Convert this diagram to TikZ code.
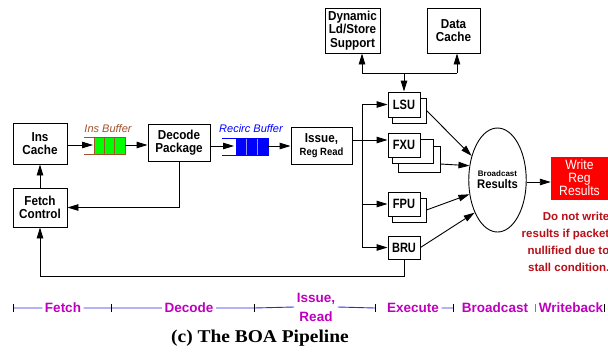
\documentclass[tikz,border=0pt]{standalone}
\usepackage{fontspec}
\setmainfont{Liberation Sans}
\newfontfamily\narrowsans[FakeStretch=0.9]{Liberation Sans}
\newfontfamily\unitsans[FakeStretch=0.82]{Liberation Sans}
\newfontfamily\captionserif[FakeStretch=1.08]{Liberation Serif}
\usetikzlibrary{arrows.meta,shapes.geometric,calc}
\definecolor{bufbrown}{RGB}{160,82,45}
\definecolor{bufgreen}{RGB}{0,255,0}
\definecolor{bufblue}{RGB}{0,0,255}
\definecolor{bufdiv}{RGB}{150,150,255}
\definecolor{notered}{RGB}{185,15,25}
\definecolor{stagemag}{RGB}{190,0,190}
\definecolor{stageline}{RGB}{40,40,230}
\definecolor{wbred}{RGB}{255,0,0}
\begin{document}
\begin{tikzpicture}[x=1pt, y=-1pt,
  >={Triangle[length=11pt,width=6.5pt]},
  box/.style={draw, fill=white, line width=0.9pt, inner sep=0pt, align=center,
    font=\narrowsans\bfseries\fontsize{13}{12.5}\selectfont},
  unit/.style={box, font=\unitsans\bfseries\fontsize{13.5}{13}\selectfont, minimum width=32pt},
  shadowbox/.style={draw, fill=white, line width=0.9pt, inner sep=0pt},
  wire/.style={line width=0.9pt},
  conn/.style={wire, ->},
  buflabel/.style={font=\itshape\fontsize{11}{11}\selectfont},
  stage/.style={text=stagemag, font=\bfseries\fontsize{13.5}{19}\selectfont, inner sep=2.5pt, align=center},
  tl/.style={draw=stageline, line width=0.9pt},
  tick/.style={line width=0.9pt}
]
\fill[white] (0,0) rectangle (608,354);
\useasboundingbox (0,0) rectangle (608,354);

% ---- front end ----
\node[box, minimum width=54pt, minimum height=41pt] (inscache) at (40,143.5) {Ins\\Cache};
\node[box, minimum width=54pt, minimum height=39pt] (fetch) at (40,207.5) {Fetch\\Control};
\node[box, minimum width=62pt, minimum height=37pt] (decode) at (179,142.5) {Decode\\Package};
\node[box, minimum width=61pt, minimum height=37pt] (issue) at (321.5,145.5)
  {Issue,\\{\fontsize{10.5}{11.5}\selectfont Reg Read}};

% instruction buffer
\draw[bufbrown, line width=0.9pt] (84,137) -- (94,137) (84,154) -- (94,154);
\draw[bufbrown, line width=0.9pt, fill=bufgreen] (94,137) rectangle (125,154);
\draw[bufbrown, line width=0.9pt] (104.3,137) -- (104.3,154) (114.7,137) -- (114.7,154);
\coordinate (insin) at (93,145);
\coordinate (insout) at (125,145);
\node[buflabel, text=bufbrown] (inslbl) at (108,129) {Ins Buffer};

% recirculation buffer
\draw[bufblue, line width=0.9pt] (222,138) -- (236,138) (222,155) -- (236,155);
\draw[bufblue, line width=0.9pt, fill=bufblue] (236,138) rectangle (268,155);
\draw[bufdiv, line width=0.9pt] (246.7,138.5) -- (246.7,154.5) (257.3,138.5) -- (257.3,154.5);
\coordinate (recin) at (234,146);
\coordinate (recout) at (268,146);
\node[buflabel, text=bufblue] (reclbl) at (251,129) {Recirc Buffer};

\draw[conn] (inscache.east |- insin) -- (insin);
\draw[conn] (insout) -- (decode.west |- insout);
\draw[conn] (decode.east |- recin) -- (recin);
\draw[conn] (recout) -- (issue.west |- recout);
\draw[conn] (fetch.north) -- (inscache.south);
\draw[conn] (decode.south) |- (fetch.east);

% ---- memory side ----
\node[box, minimum width=55pt, minimum height=45pt, font=\narrowsans\bfseries\fontsize{13}{13.5}\selectfont]
  (dyn) at (352.5,30.5) {Dynamic\\Ld/Store\\Support};
\node[box, minimum width=53pt, minimum height=45pt] (dcache) at (453.5,30.5) {Data\\Cache};

% ---- functional units ----
\node[shadowbox, minimum width=34pt, minimum height=25pt] (lsush) at (409,110.5) {};
\node[unit, minimum height=25pt] (lsu) at (404,104.5) {LSU};

\node[shadowbox, minimum width=42pt, minimum height=26pt] (fxu3) at (419,159) {};
\node[shadowbox, minimum width=41pt, minimum height=24pt] (fxu2) at (412.5,151) {};
\node[unit, minimum height=24pt] (fxu) at (404,145) {FXU};

\node[shadowbox, minimum width=34pt, minimum height=24pt] (fpush) at (409,210) {};
\node[unit, minimum height=24pt] (fpu) at (404,204) {FPU};

\node[unit, minimum height=23pt] (bru) at (404,247.5) {BRU};

\coordinate (tl) at (362,73);
\coordinate (tr) at (457,73);
\draw[wire] (tl) -- (tr);
\draw[conn] (tl) -- (dyn.south -| tl);
\draw[conn] (tr) -- (dcache.south -| tr);
\draw[conn] (lsu.north |- tl) -- (lsu.north);

% issue bus
\draw[wire] (lsu.west -| 362,0) -- (bru.west -| 362,0);
\draw[conn] (lsu.west -| 362,0) -- (lsu.west);
\draw[conn] (issue.east |- 0,140) -- (fxu.west |- 0,140);
\draw[conn] (fpu.west -| 362,0) -- (fpu.west);
\draw[conn] (bru.west -| 362,0) -- (bru.west);

% branch feedback
\draw[conn] (bru.south) -- ++(0,17) -| (fetch.south);

% ---- broadcast and writeback ----
\node[draw, ellipse, line width=0.9pt, minimum width=52pt, minimum height=104pt, inner sep=0pt, align=center]
  (bcast) at (497.5,180)
  {{\bfseries\fontsize{8}{10}\selectfont Broadcast}\\{\narrowsans\bfseries\fontsize{12.5}{14}\selectfont Results}};

\draw[conn] (lsush.east) -- (bcast.137);
\draw[conn] ($(fxu3.east)+(0,5)$) -- (bcast.153);
\draw[conn] (fpush.east) -- (bcast.207);
\draw[conn] (bru.east) -- (bcast.235);

\node[fill=wbred, draw=wbred, minimum width=57pt, minimum height=42pt, inner sep=0pt, align=center,
  text=white, font=\narrowsans\fontsize{13.5}{12.5}\selectfont] (write) at (579.5,178) {Write\\Reg\\Results};
\draw[conn] (bcast.east |- 0,182) -- (write.west |- 0,182);

\node[anchor=north east, inner sep=0pt, align=right, text=notered,
  font=\bfseries\fontsize{11.5}{17}\selectfont] (note) at (609.5,212)
  {Do not write\\results if packet\\nullified due to\\stall condition.};

% ---- stage timeline ----
\coordinate (t0) at (13,308);
\coordinate (t1) at (111,308);
\coordinate (t2) at (254,308);
\coordinate (t3) at (375,308);
\coordinate (t4) at (453,308);
\coordinate (t5) at (535,308);
\coordinate (t6) at (604,308);
\node[stage] (sfetch) at (63,308) {Fetch};
\node[stage] (sdecode) at (189,308) {Decode};
\node[stage] (sissue) at (316,307) {Issue,\\Read};
\node[stage] (sexec) at (413,308) {Execute};
\node[stage] (sbcast) at (495,308) {Broadcast};
\node[stage] (swrite) at (571,308) {Writeback};
\draw[tl] (t0) -- (sfetch.west) (sfetch.east) -- (t1) -- (sdecode.west)
  (sdecode.east) -- (t2) -- (sissue.west) (sissue.east) -- (t3)
  (sexec.east) -- (t4);
\foreach \t in {t0,t1,t2,t3,t4,t6}
  \draw[tick] (\t) ++(0,-4) -- ++(0,8);
\draw[tick, gray] (t5) ++(0,-4) -- ++(0,8);

\node[font=\captionserif\bfseries\fontsize{18}{20}\selectfont] (caption) at (260,338) {(c) The BOA Pipeline};
\end{tikzpicture}
\end{document}
